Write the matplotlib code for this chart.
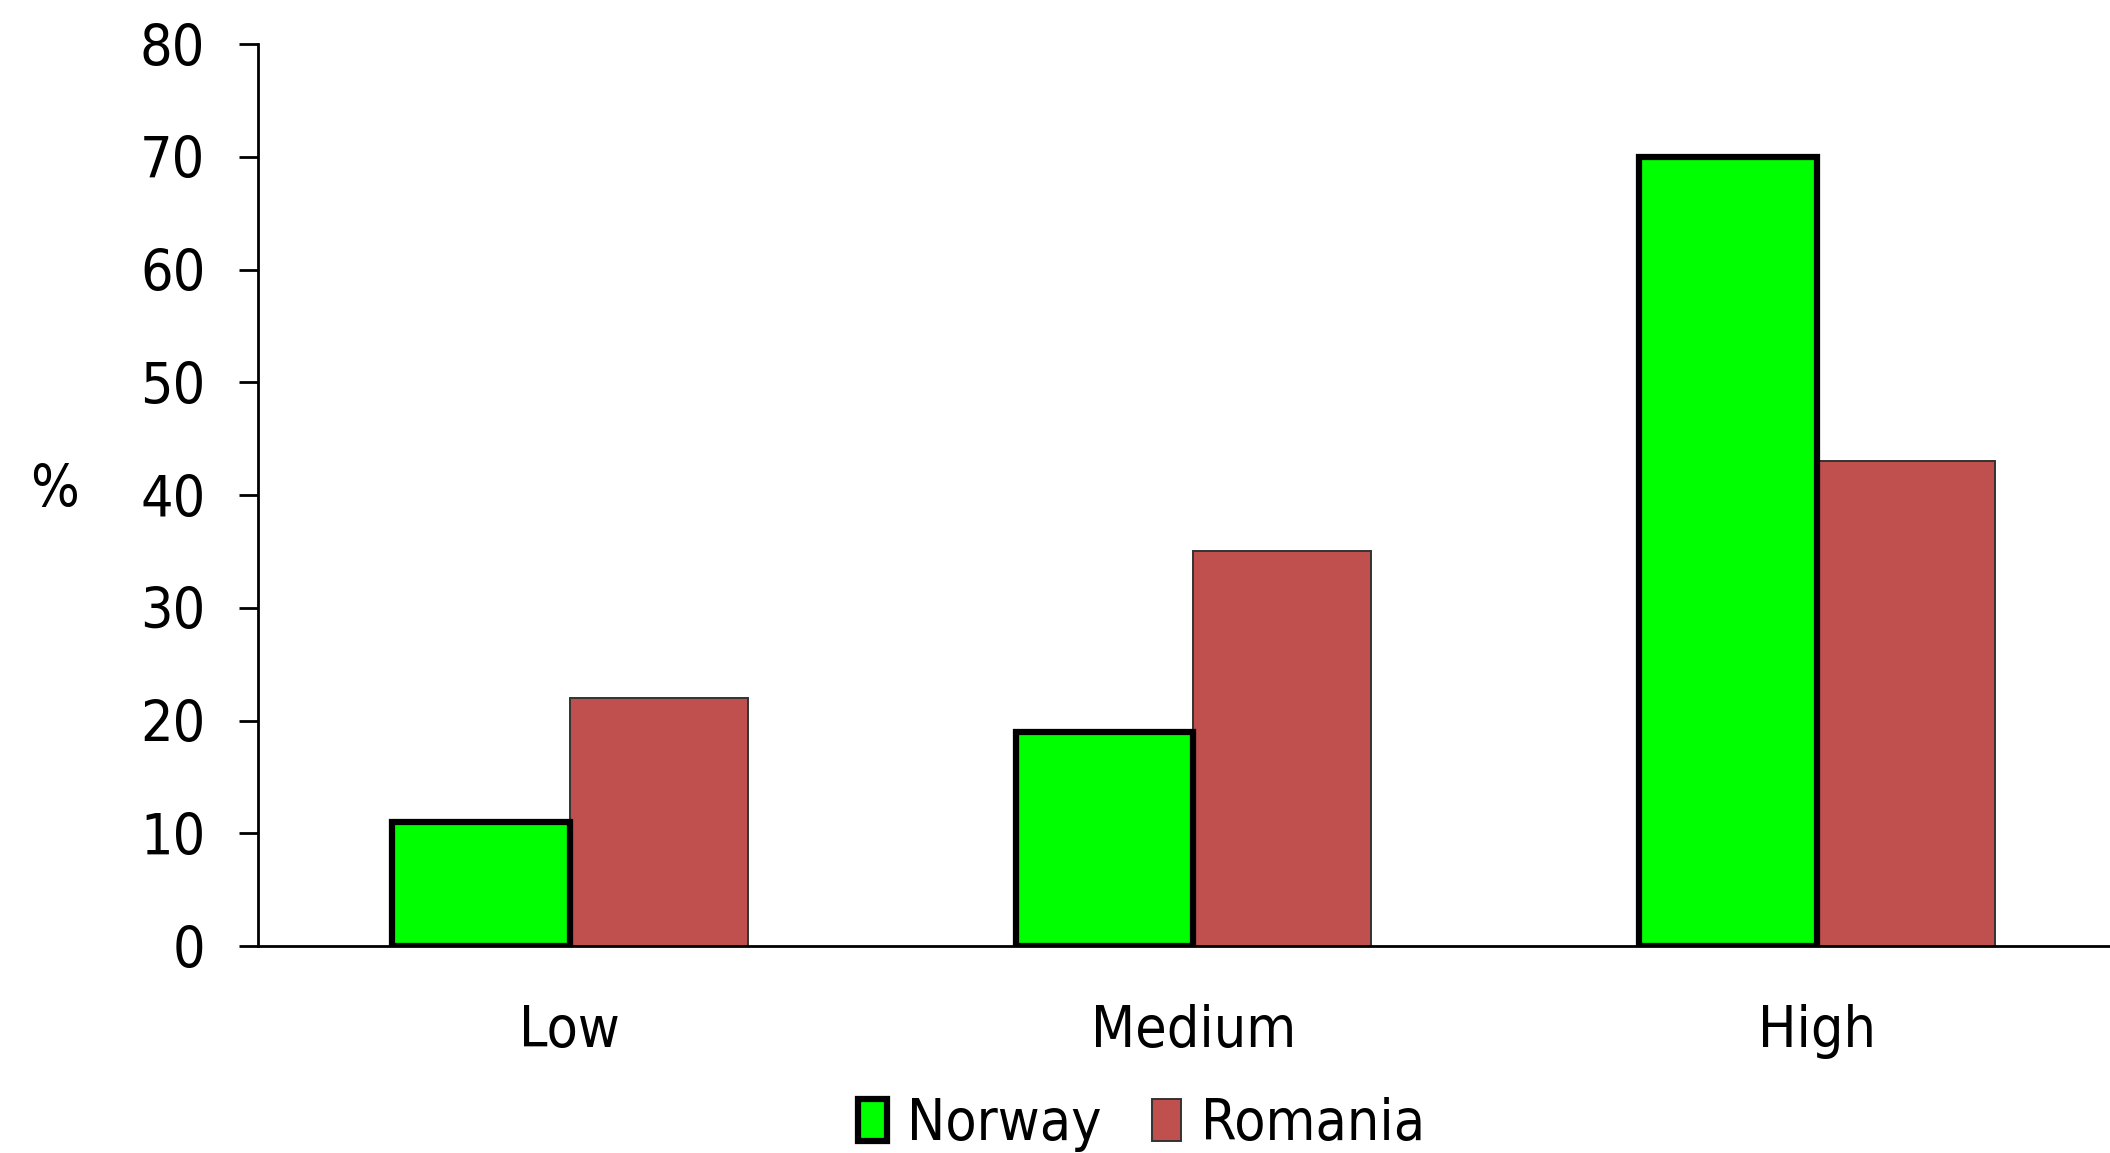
import matplotlib.pyplot as plt
import numpy as np

# data
categories = ['Low', 'Medium', 'High']
norway = [11, 19, 70]
romania = [22, 35, 43]
yticks = [0, 10, 20, 30, 40, 50, 60, 70, 80]

plt.rcParams['font.family'] = ['DejaVu Sans']
plt.rcParams['font.stretch'] = 'condensed'
fs = 41

fig = plt.figure(figsize=(21.10, 11.53), dpi=100)
ax = fig.add_axes([0.1223, 0.1795, 0.8777, 0.7823])

x = np.arange(len(categories))
w = 0.285
ax.bar(x - w / 2, norway, w, color='#00FF00', edgecolor='black', linewidth=4.5,
       label='Norway', zorder=3)
ax.bar(x + w / 2, romania, w, color='#C0504D', edgecolor='#333333', linewidth=1.4,
       label='Romania', zorder=2)

ax.set_xlim(-0.5, 2.47)
ax.set_ylim(0, 80)
ax.set_yticks(yticks)
ax.set_xticks(x)
ax.set_xticklabels(categories)

for s in ['top', 'right']:
    ax.spines[s].set_visible(False)
ax.spines['left'].set_linewidth(2)
ax.spines['bottom'].set_linewidth(2)

ax.tick_params(axis='y', direction='out', length=14, width=2, pad=24, labelsize=fs)
ax.tick_params(axis='x', length=0, pad=42, labelsize=fs)

ax.set_ylabel('%', fontsize=fs, rotation=0, labelpad=0, va='center', ha='center')
ax.yaxis.set_label_coords(-0.11, 0.505)

fig.legend(loc='center', bbox_to_anchor=(0.541, 0.025), ncol=2, frameon=False,
           fontsize=fs, handlelength=0.5, handleheight=0.75, handletextpad=0.35,
           columnspacing=0.9, borderaxespad=0)

fig.savefig('out.png', dpi=100)
